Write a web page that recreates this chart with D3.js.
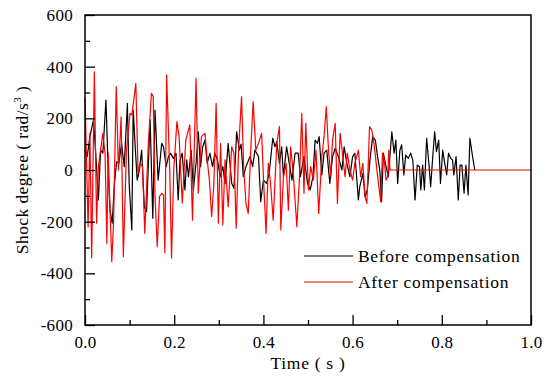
<!DOCTYPE html>
<html>
<head>
<meta charset="utf-8">
<script src="https://cdn.jsdelivr.net/npm/d3@7"></script>
<style>
  body { margin: 0; background: #fff; }
  svg text { font-family: "Liberation Serif", "DejaVu Serif", serif; fill: #000; }
</style>
</head>
<body>
<div id="chart"></div>
<script>
// time (s) and shock degree (rad/s^3)
var beforeTime = [0.000,0.005,0.011,0.019,0.025,0.030,0.035,0.040,0.047,0.052,0.056,0.061,0.066,0.071,0.076,0.082,0.088,0.095,0.099,0.105,
  0.108,0.113,0.117,0.122,0.127,0.133,0.138,0.146,0.152,0.157,0.161,0.164,0.172,0.176,0.182,0.187,0.192,0.198,0.204,0.209,
  0.213,0.218,0.224,0.228,0.232,0.238,0.243,0.249,0.254,0.259,0.264,0.269,0.274,0.280,0.286,0.291,0.297,0.303,0.309,0.314,
  0.321,0.329,0.334,0.340,0.346,0.350,0.355,0.361,0.370,0.376,0.381,0.389,0.394,0.400,0.407,0.413,0.421,0.426,0.430,0.436,
  0.441,0.445,0.452,0.458,0.464,0.471,0.478,0.483,0.491,0.499,0.505,0.511,0.516,0.521,0.525,0.531,0.536,0.542,0.549,0.555,
  0.561,0.568,0.576,0.581,0.587,0.594,0.600,0.605,0.613,0.616,0.623,0.628,0.633,0.639,0.645,0.651,0.656,0.661,0.665,0.669,
  0.675,0.680,0.683,0.688,0.693,0.697,0.701,0.706,0.710,0.715,0.719,0.725,0.730,0.735,0.740,0.745,0.750,0.753,0.757,0.761,
  0.766,0.771,0.775,0.780,0.784,0.788,0.793,0.797,0.802,0.806,0.811,0.815,0.820,0.824,0.827,0.832,0.837,0.841,0.845,0.850,
  0.854,0.859,0.863,0.869,0.874];
var beforeValue = [77,52,129,194,39,-116,77,65,271,0,-155,-206,-52,32,26,103,13,258,-52,-232,
  232,77,-39,0,77,-142,-161,194,-187,232,77,-39,103,90,13,52,65,45,65,-116,
  39,65,-77,39,-26,77,-77,26,148,13,90,116,26,65,13,65,39,-26,13,-52,
  103,-52,-71,148,77,100,-26,13,52,13,77,52,-123,-39,-52,-13,123,90,110,26,
  90,-26,90,26,-39,65,65,-26,52,-52,-77,-26,116,103,129,-19,65,77,-52,52,
  84,52,0,90,26,-26,52,65,-116,-65,-13,-103,-77,39,129,116,52,0,-123,65,
  13,-26,39,148,65,116,-52,77,97,-19,58,45,65,39,-116,19,13,-77,19,-77,
  123,26,-65,58,148,71,116,-52,77,32,-19,65,45,39,-19,52,-116,19,19,-90,
  19,-97,123,52,0];

var afterTime = [0.000,0.007,0.011,0.015,0.021,0.026,0.030,0.040,0.045,0.049,0.052,0.060,0.064,0.070,0.075,0.081,0.086,0.093,0.101,0.105,
  0.114,0.119,0.123,0.129,0.134,0.142,0.149,0.153,0.157,0.162,0.167,0.172,0.176,0.179,0.183,0.190,0.194,0.199,0.206,0.211,
  0.218,0.226,0.235,0.241,0.249,0.254,0.261,0.269,0.274,0.279,0.284,0.289,0.294,0.299,0.304,0.309,0.314,0.321,0.329,0.334,
  0.339,0.344,0.351,0.356,0.361,0.366,0.371,0.377,0.383,0.389,0.396,0.400,0.406,0.411,0.416,0.422,0.430,0.436,0.439,0.445,
  0.451,0.456,0.461,0.467,0.475,0.481,0.486,0.491,0.495,0.501,0.506,0.512,0.518,0.524,0.531,0.536,0.541,0.546,0.551,0.555,
  0.561,0.566,0.572,0.578,0.583,0.588,0.594,0.600,0.605,0.613,0.618,0.623,0.628,0.632,0.638,0.643,0.648,0.652,0.658,0.663,
  0.667,0.671,0.675,0.679,0.681,0.684,1.000];
var afterValue = [280,-220,143,-340,380,-206,13,142,65,-284,65,-355,-206,323,0,206,-335,77,219,213,
  335,-13,26,13,-245,103,297,284,-103,-297,-103,-90,-97,-320,368,0,-341,0,187,129,
  -128,116,175,-194,355,-90,129,142,39,-40,-181,-52,258,-206,103,-213,39,-142,90,64,
  -225,65,284,0,-129,-168,52,265,77,103,142,-26,-245,26,-52,-194,103,168,-232,-26,
  26,-155,90,-13,-219,-26,219,-90,181,-77,13,-39,77,-168,52,129,245,77,-26,116,
  181,-129,142,52,-26,65,0,-39,26,77,-26,26,-103,-129,168,155,103,39,-52,-123,
  65,39,-39,-26,77,0,0];

var xTicks = [0.0, 0.2, 0.4, 0.6, 0.8, 1.0];
var xMinor = [0.1, 0.3, 0.5, 0.7, 0.9];
var yTicks = [-600, -400, -200, 0, 200, 400, 600];
var yMinor = [-500, -300, -100, 100, 300, 500];

var width = 550, height = 383;
var margin = {left: 85, right: 19, top: 15, bottom: 58};

var svg = d3.select("#chart").append("svg")
  .attr("width", width)
  .attr("height", height);

var x = d3.scaleLinear().domain([0, 1]).range([margin.left, width - margin.right]);
var y = d3.scaleLinear().domain([-600, 600]).range([height - margin.bottom, margin.top]);

var line = d3.line()
  .x(function(d) { return x(d[0]); })
  .y(function(d) { return y(d[1]); });

var before = beforeTime.map(function(t, i) { return [t, beforeValue[i]]; });
var after = afterTime.map(function(t, i) { return [t, afterValue[i]]; });

svg.append("path")
  .datum(before)
  .attr("fill", "none")
  .attr("stroke", "#000")
  .attr("stroke-width", 1.2)
  .attr("stroke-linejoin", "round")
  .attr("d", line);

svg.append("path")
  .datum(after)
  .attr("fill", "none")
  .attr("stroke", "#ff0000")
  .attr("stroke-width", 1.2)
  .attr("stroke-linejoin", "round")
  .attr("d", line);

// axes, ticks inward
var bottom = height - margin.bottom;
svg.append("g")
  .attr("transform", "translate(0," + bottom + ")")
  .call(d3.axisBottom(x).tickValues(xMinor).tickSize(-5).tickFormat(""))
  .call(function(g) { g.select(".domain").remove(); });

svg.append("g")
  .attr("transform", "translate(0," + bottom + ")")
  .call(d3.axisBottom(x).tickValues(xTicks).tickSize(-10).tickPadding(11).tickFormat(d3.format(".1f")))
  .call(function(g) { g.select(".domain").remove(); })
  .selectAll("text").style("font-size", "17px").style("letter-spacing", "0.3px");

svg.append("g")
  .attr("transform", "translate(" + margin.left + ",0)")
  .call(d3.axisLeft(y).tickValues(yMinor).tickSize(-5).tickFormat(""))
  .call(function(g) { g.select(".domain").remove(); });

svg.append("g")
  .attr("transform", "translate(" + margin.left + ",0)")
  .call(d3.axisLeft(y).tickValues(yTicks).tickSize(-10).tickPadding(12).tickFormat(function(d) { return String(d); }))
  .call(function(g) { g.select(".domain").remove(); })
  .selectAll("text").style("font-size", "17px").style("letter-spacing", "0.3px");

svg.selectAll(".tick line").attr("stroke", "#000").attr("stroke-width", 1.3);

// frame
svg.append("rect")
  .attr("x", x(0)).attr("y", y(600))
  .attr("width", x(1) - x(0)).attr("height", y(-600) - y(600))
  .attr("fill", "none")
  .attr("stroke", "#000")
  .attr("stroke-width", 1.5);

// axis titles
svg.append("text")
  .attr("x", (x(0) + x(1)) / 2)
  .attr("y", 369)
  .attr("text-anchor", "middle")
  .style("font-size", "17.5px")
  .style("letter-spacing", "0.7px")
  .text("Time ( s )");

var yt = svg.append("text")
  .attr("transform", "translate(28," + y(0) + ") rotate(-90)")
  .attr("text-anchor", "middle")
  .style("font-size", "17.5px")
  .style("letter-spacing", "0.4px");
yt.append("tspan").text("Shock degree ( rad/s");
yt.append("tspan").attr("dy", -7).style("font-size", "11px").text("3");
yt.append("tspan").attr("dy", 7).text(" )");

// legend
var legend = [
  {label: "Before compensation", color: "#000"},
  {label: "After compensation", color: "#ff0000"}
];
var lg = svg.append("g").attr("transform", "translate(304,256)");
legend.forEach(function(d, i) {
  lg.append("line")
    .attr("x1", 0).attr("x2", 49)
    .attr("y1", i * 26).attr("y2", i * 26)
    .attr("stroke", d.color).attr("stroke-width", 1.2);
  lg.append("text")
    .attr("x", 54).attr("y", i * 26 + 6)
    .style("font-size", "17.5px")
    .style("letter-spacing", "0.7px")
    .text(d.label);
});
</script>
</body>
</html>
